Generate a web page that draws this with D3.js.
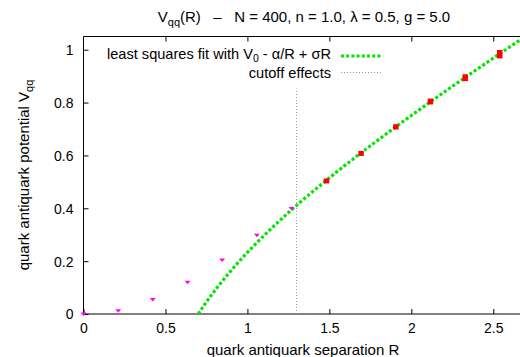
<!DOCTYPE html>
<html><head><meta charset="utf-8">
<script src="https://cdn.jsdelivr.net/npm/d3@7"></script>
<style>
body{margin:0;background:#fff;}
text{font-family:"Liberation Sans",Arial,sans-serif;font-size:15px;fill:#000;white-space:pre;}
</style></head><body>
<svg id="c" width="520" height="357"></svg>
<script>
// Data
const cutoffR = [0, 0.212, 0.423, 0.635, 0.846, 1.058, 1.269];
const cutoffV = [0, 0.012, 0.055, 0.120, 0.204, 0.298, 0.399];
const fitR = [1.481, 1.692, 1.904, 2.115, 2.327, 2.538];
const fitV = [0.505, 0.608, 0.708, 0.804, 0.894, 0.983];
const fitErr = [0.008, 0.009, 0.010, 0.011, 0.013, 0.016];
const fitParams = [0.132, 0.278, 0.379]; // V0, alpha, sigma
const cutoffLine = [1.3, 0.853];
const xTicks = [0, 0.5, 1, 1.5, 2, 2.5];
const yTicks = [0, 0.2, 0.4, 0.6, 0.8, 1];

const svg = d3.select("#c");
const x = d3.scaleLinear().domain([0, 2.66]).range([83.5, 519.5]);
const y = d3.scaleLinear().domain([0, 1.05]).range([314, 36.5]);

// frame
svg.append("line").attr("x1",x(0)).attr("x2",x(0)).attr("y1",y(0)).attr("y2",y(1.05)).attr("stroke","#000");
svg.append("line").attr("x1",x(0)).attr("x2",520).attr("y1",y(0)).attr("y2",y(0)).attr("stroke","#000");
svg.append("line").attr("x1",x(0)).attr("x2",520).attr("y1",y(1.05)).attr("y2",y(1.05)).attr("stroke","#000");

// axes ticks
const xb = d3.axisBottom(x).tickValues(xTicks).tickSize(-5).tickPadding(0).tickFormat(d3.format("~g"));
const gx = svg.append("g").attr("transform",`translate(0,${y(0)})`).call(xb);
const xt = d3.axisTop(x).tickValues(xTicks.slice(1)).tickSize(-5).tickFormat("");
const gxt = svg.append("g").attr("transform",`translate(0,${y(1.05)})`).call(xt);
const yl = d3.axisLeft(y).tickValues(yTicks).tickSize(-5).tickPadding(0).tickFormat(d3.format("~g"));
const gy = svg.append("g").attr("transform",`translate(${x(0)},0)`).call(yl);
[gx,gxt,gy].forEach(g=>{g.select(".domain").remove();g.selectAll("line").attr("stroke","#000");g.selectAll("text").style("font-size","14px").attr("fill","#000");});
gx.selectAll("text").attr("y",19).attr("dy",0);
gy.selectAll("text").attr("x",-10).attr("dy","0.35em");

// cutoff line
svg.append("line").attr("x1",x(cutoffLine[0])).attr("x2",x(cutoffLine[0]))
  .attr("y1",y(0)).attr("y2",y(cutoffLine[1]))
  .attr("stroke","#999").attr("stroke-width",1).attr("stroke-dasharray","1,2");

// fit curve
const [V0,al,sg] = fitParams;
const f = r => V0 - al/r + sg*r;
const rs = d3.range(0.69, 2.66, 0.01).concat([2.66]);
const pts = rs.map(r=>[r,f(r)]).filter(p=>p[1]>=-0.001);
svg.append("path").datum(pts)
  .attr("d", d3.line().x(d=>x(d[0])).y(d=>y(d[1])))
  .attr("fill","none").attr("stroke","#00e600").attr("stroke-width",3.2).attr("stroke-dasharray","3,2.2");

// cutoff points (magenta)
cutoffR.forEach((r,i)=>{
  const cx=x(r), cy=y(cutoffV[i]);
  svg.append("path").attr("d",`M${cx-3},${cy-1.5}L${cx+3},${cy-1.5}L${cx},${cy+2}Z`).attr("fill","#ff00ff");
});

// fit points (red error bars)
fitR.forEach((r,i)=>{
  const y1=y(fitV[i]+fitErr[i]), y2=y(fitV[i]-fitErr[i]);
  svg.append("rect").attr("x",x(r)-2.5).attr("width",5.5).attr("y",y1).attr("height",Math.max(5,y2-y1)).attr("fill","#ff0000");
});

// legend
const lg1 = svg.append("text").attr("x",331).attr("y",58.5).attr("text-anchor","end").style("font-size","14.6px");
lg1.append("tspan").text("least squares fit with V");
lg1.append("tspan").attr("dy",3).style("font-size","10.5px").text("0");
lg1.append("tspan").attr("dy",-3).text(" - \u03b1/R + \u03c3R");
svg.append("line").attr("x1",341).attr("x2",382).attr("y1",56).attr("y2",56)
  .attr("stroke","#00e600").attr("stroke-width",3.2).attr("stroke-dasharray","3,2.2");
svg.append("text").attr("x",331).attr("y",77.5).attr("text-anchor","end").style("font-size","14.6px").text("cutoff effects");
svg.append("line").attr("x1",341).attr("x2",382).attr("y1",72.5).attr("y2",72.5)
  .attr("stroke","#999").attr("stroke-dasharray","1,2");

// title
const t = svg.append("text").attr("x",304).attr("y",22).attr("text-anchor","middle");
t.append("tspan").text("V");
t.append("tspan").attr("dy",4).style("font-size","11px").text("qq");
t.append("tspan").attr("dy",-4).text("(R)   \u2013   N = 400, n = 1.0, \u03bb = 0.5, g = 5.0");

// axis labels
svg.append("text").attr("x",303).attr("y",355).attr("text-anchor","middle").text("quark antiquark separation R");
const yt = svg.append("text").attr("transform","translate(29,175) rotate(-90)").attr("text-anchor","middle");
yt.append("tspan").text("quark antiquark potential V");
yt.append("tspan").attr("dy",4).style("font-size","11px").text("qq");
</script></body></html>
